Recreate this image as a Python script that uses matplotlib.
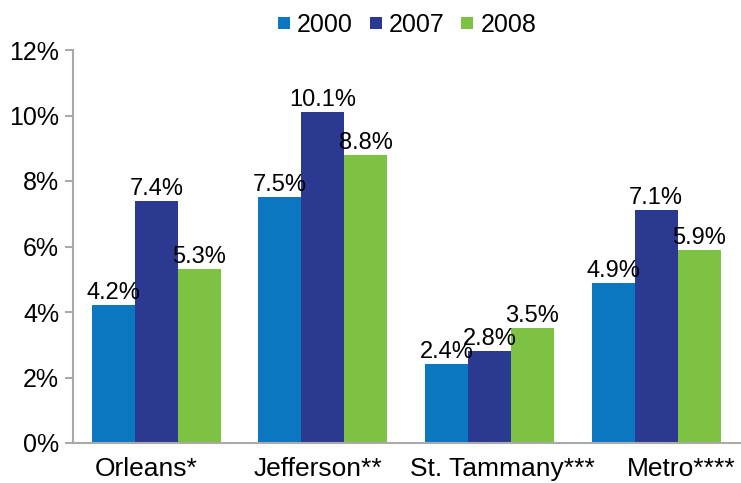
import numpy as np
import matplotlib.pyplot as plt

plt.rcParams['font.family'] = ['Liberation Sans', 'DejaVu Sans']

parishes = ['Orleans*', 'Jefferson**', 'St. Tammany***', 'Metro****']
years = ['2000', '2007', '2008']
v2000 = [4.2, 7.5, 2.4, 4.9]
v2007 = [7.4, 10.1, 2.8, 7.1]
v2008 = [5.3, 8.8, 3.5, 5.9]
colors = ['#0b77c0', '#2b3990', '#7dc242']

fig = plt.figure(figsize=(7.41, 4.83), dpi=100)
ax = fig.add_axes([73 / 741, 40 / 483, 668 / 741, 393 / 483])

x = np.arange(len(parishes))
w = 0.258
for i, (vals, yr) in enumerate(zip([v2000, v2007, v2008], years)):
    bars = ax.bar(x + (i - 1) * w, vals, w, color=colors[i], label=yr)
    for b, v in zip(bars, vals):
        ax.text(b.get_x() + b.get_width() / 2, v + 0.03, '%.1f%%' % v,
                ha='center', va='bottom', fontsize=17)

ax.set_xlim(-0.50, 3.51)
ax.set_ylim(0, 12)
ax.set_yticks(range(0, 13, 2))
ax.set_yticklabels(['%d%%' % t for t in range(0, 13, 2)], fontsize=18)
# category labels in the source sit a little off the group centres
ax.set_xticks(x + np.array([-0.06, -0.03, 0.078, 0.153]))
ax.set_xticklabels(parishes, fontsize=19)
ax.tick_params(axis='x', length=0, pad=10)
ax.tick_params(axis='y', color='#aaaaaa', length=6, width=1.5, pad=4)
for s in ['top', 'right']:
    ax.spines[s].set_visible(False)
for s in ['left', 'bottom']:
    ax.spines[s].set_color('#aaaaaa')
    ax.spines[s].set_linewidth(1.5)

fig.legend(*ax.get_legend_handles_labels(), loc='center',
           bbox_to_anchor=(407 / 741, 1 - 25 / 483), ncol=3, frameon=False,
           fontsize=18, handlelength=0.48, handleheight=0.36, handletextpad=0.28,
           columnspacing=0.68, borderpad=0)

fig.savefig('out.png', dpi=100)
